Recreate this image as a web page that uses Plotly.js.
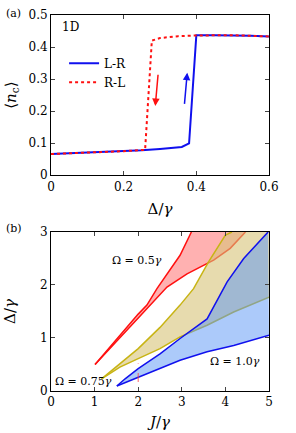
<!DOCTYPE html>
<html><head><meta charset="utf-8">
<script src="https://cdn.plot.ly/plotly-3.0.1.min.js"></script>
<style>html,body{margin:0;padding:0;background:#fff}#c{width:296px;height:433px}</style>
</head><body><div id="c"></div>
<script>
// Panel (a)
const lrX = [0, 0.1, 0.2, 0.25, 0.30, 0.36, 0.38, 0.40, 0.45, 0.50, 0.55, 0.60];
const lrY = [0.066, 0.070, 0.075, 0.078, 0.082, 0.088, 0.099, 0.437, 0.437, 0.437, 0.435, 0.433];
const rlX = [0, 0.1, 0.2, 0.259, 0.2775, 0.30, 0.35, 0.40, 0.45, 0.50, 0.55, 0.60];
const rlY = [0.066, 0.070, 0.075, 0.079, 0.420, 0.428, 0.434, 0.436, 0.437, 0.437, 0.435, 0.433];
const arrowRed = {x0: 0.295, y0: 0.318, x1: 0.287, y1: 0.216};
const arrowBlue = {x0: 0.367, y0: 0.218, x1: 0.375, y1: 0.320};

// Panel (b)
const redUpX = [1.01, 1.5, 2.0, 2.2, 2.43, 2.96, 3.22];
const redUpY = [0.50, 0.98, 1.45, 1.62, 1.93, 2.56, 3.0];
const redLoX = [1.01, 1.5, 2.0, 2.66, 3.12, 3.73, 4.11, 4.46];
const redLoY = [0.50, 0.93, 1.36, 1.96, 2.21, 2.47, 2.69, 3.0];
const yelUpX = [1.16, 1.6, 2.0, 2.5, 2.96, 3.27, 3.61, 4.0, 4.15];
const yelUpY = [0.23, 0.53, 0.80, 1.20, 1.62, 1.93, 2.43, 2.94, 3.0];
const yelLoX = [1.16, 1.58, 2.0, 2.5, 2.96, 3.58, 4.19, 5.0];
const yelLoY = [0.23, 0.45, 0.61, 0.80, 1.02, 1.24, 1.49, 1.77];
const bluUpX = [1.51, 1.7, 2.0, 2.5, 2.96, 3.58, 4.04, 4.42, 4.98];
const bluUpY = [0.094, 0.23, 0.42, 0.70, 0.99, 1.36, 2.06, 2.5, 3.0];
const bluLoX = [1.51, 2.0, 2.5, 2.96, 3.58, 4.19, 5.0];
const bluLoY = [0.094, 0.26, 0.42, 0.58, 0.74, 0.86, 1.05];
const markX = [2.0, 2.0];
const markY = [0.17, 0.52];

function poly(ux, uy, lx, ly, top) {
  const xs = ux.slice(), ys = uy.slice();
  const lastLoX = lx[lx.length - 1], lastLoY = ly[ly.length - 1];
  if (top) { xs.push(lastLoX >= 4.99 ? 5 : lastLoX); ys.push(3); if (lastLoX >= 4.99) { xs.push(5); ys.push(lastLoY); } }
  for (let i = lx.length - 1; i >= 0; i--) { xs.push(lx[i]); ys.push(ly[i]); }
  return {x: xs, y: ys};
}
const redP = poly(redUpX, redUpY, redLoX, redLoY, true);
const yelP = poly(yelUpX, yelUpY, yelLoX, yelLoY, true);
const bluP = poly(bluUpX, bluUpY, bluLoX, bluLoY, false);

const F = '"DejaVu Serif", serif';
const RED = '#ff1010', BLUE = '#1010ee', YEL = '#c8b414';

function fillT(p, c) { return {x: p.x, y: p.y, fill: 'toself', mode: 'none', fillcolor: c, showlegend: false, xaxis: 'x2', yaxis: 'y2', hoverinfo: 'skip'}; }
function lineT(x, y, c) { return {x: x, y: y, mode: 'lines', line: {color: c, width: 1.5}, showlegend: false, xaxis: 'x2', yaxis: 'y2'}; }

const traces = [
  {x: lrX, y: lrY, mode: 'lines', name: 'L-R', line: {color: BLUE, width: 2}, xaxis: 'x', yaxis: 'y'},
  {x: rlX, y: rlY, mode: 'lines', name: 'R-L', line: {color: RED, width: 2, dash: 'dot'}, xaxis: 'x', yaxis: 'y'},
  fillT(redP, 'rgba(255,100,100,0.5)'),
  lineT(redUpX, redUpY, RED), lineT(redLoX, redLoY, RED),
  fillT(yelP, 'rgba(215,195,120,0.6)'),
  lineT(yelUpX, yelUpY, YEL), lineT(yelLoX, yelLoY, YEL),
  fillT(bluP, 'rgba(90,150,245,0.5)'),
  lineT(bluUpX, bluUpY, BLUE), lineT(bluLoX, bluLoY, BLUE),
  {x: markX, y: markY, mode: 'lines', line: {color: 'rgba(255,60,60,0.8)', width: 1, dash: 'dash'}, showlegend: false, xaxis: 'x2', yaxis: 'y2'}
];

const ax = {showgrid: false, zeroline: false, ticks: 'inside', ticklen: 4, mirror: 'ticks', showline: true, linecolor: '#000', linewidth: 1, tickfont: {family: F, size: 12, color: '#000'}};

const layout = {
  width: 296, height: 433,
  margin: {l: 51, r: 27, t: 15, b: 42, pad: 0},
  paper_bgcolor: '#fff', plot_bgcolor: '#fff',
  font: {family: F, color: '#000'},
  showlegend: true,
  legend: {x: 0.06, y: 0.91, xanchor: 'left', yanchor: 'top', bgcolor: 'rgba(0,0,0,0)', font: {family: F, size: 12}, tracegroupgap: 0, itemwidth: 30},
  xaxis: Object.assign({}, ax, {domain: [0, 1], anchor: 'y', range: [0, 0.6], tickvals: [0, 0.2, 0.4, 0.6], ticktext: ['0', '0.2', '0.4', '0.6'],
    title: {text: 'Δ/<i>γ</i>', font: {family: F, size: 15}, standoff: 10}}),
  yaxis: Object.assign({}, ax, {domain: [0.574, 1], anchor: 'x', range: [0, 0.5], tickvals: [0, 0.1, 0.2, 0.3, 0.4, 0.5], ticktext: ['0', '0.1', '0.2', '0.3', '0.4', '0.5'],
    title: {text: '⟨<i>n</i><sub>c</sub>⟩', font: {family: F, size: 15}, standoff: 8}}),
  xaxis2: Object.assign({}, ax, {domain: [0, 1], anchor: 'y2', range: [0, 5], tickvals: [0, 1, 2, 3, 4, 5],
    title: {text: '<i>J</i>/<i>γ</i>', font: {family: F, size: 15}, standoff: 8}}),
  yaxis2: Object.assign({}, ax, {domain: [0, 0.423], anchor: 'x2', range: [0, 3], tickvals: [0, 1, 2, 3],
    title: {text: 'Δ/<i>γ</i>', font: {family: F, size: 15}, standoff: 20}}),
  annotations: [
    {xref: 'paper', yref: 'paper', x: -0.215, y: 1.005, xanchor: 'left', yanchor: 'middle', text: '(a)', showarrow: false, font: {family: F, size: 11}},
    {xref: 'paper', yref: 'paper', x: -0.215, y: 0.433, xanchor: 'left', yanchor: 'middle', text: '(b)', showarrow: false, font: {family: F, size: 11}},
    {xref: 'x', yref: 'y', x: 0.025, y: 0.463, xanchor: 'left', yanchor: 'middle', text: '1D', showarrow: false, font: {family: F, size: 12}},
    {xref: 'x', yref: 'y', axref: 'x', ayref: 'y', x: arrowRed.x1, y: arrowRed.y1, ax: arrowRed.x0, ay: arrowRed.y0, showarrow: true, arrowhead: 2, arrowsize: 1, arrowwidth: 1.5, arrowcolor: RED, text: ''},
    {xref: 'x', yref: 'y', axref: 'x', ayref: 'y', x: arrowBlue.x1, y: arrowBlue.y1, ax: arrowBlue.x0, ay: arrowBlue.y0, showarrow: true, arrowhead: 2, arrowsize: 1, arrowwidth: 1.5, arrowcolor: BLUE, text: ''},
    {xref: 'x2', yref: 'y2', x: 1.35, y: 2.47, xanchor: 'left', yanchor: 'middle', text: 'Ω = 0.5<i>γ</i>', showarrow: false, font: {family: F, size: 11}},
    {xref: 'x2', yref: 'y2', x: 3.6, y: 0.55, xanchor: 'left', yanchor: 'middle', text: 'Ω = 1.0<i>γ</i>', showarrow: false, font: {family: F, size: 11}},
    {xref: 'x2', yref: 'y2', x: 0.05, y: 0.17, xanchor: 'left', yanchor: 'middle', text: 'Ω = 0.75<i>γ</i>', showarrow: false, font: {family: F, size: 11}}
  ]
};
Plotly.newPlot('c', traces, layout, {staticPlot: true, displayModeBar: false});
</script></body></html>
